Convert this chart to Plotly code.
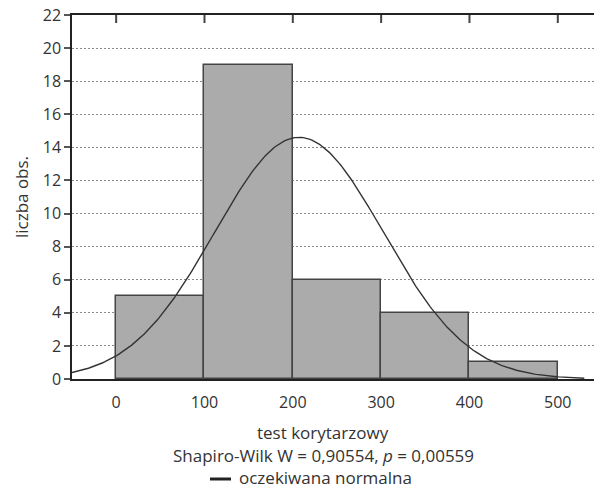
import numpy as np
import plotly.graph_objects as go

# Histogram data
bin_left = [0, 100, 200, 300, 400]
bin_width = 100
counts = [5, 19, 6, 4, 1]
x_ticks = [0, 100, 200, 300, 400, 500]
y_ticks = [0, 2, 4, 6, 8, 10, 12, 14, 16, 18, 20, 22]

# Expected normal fit parameters
fit_mean = 207
fit_sd = 95.6
n_obs = sum(counts)
curve_start, curve_end = -50, 530

FONT = "Open Sans"
TXT = "#333333"

centers = [b + bin_width / 2 for b in bin_left]
xs = np.linspace(curve_start, curve_end, 300)
ys = n_obs * bin_width / (fit_sd * np.sqrt(2 * np.pi)) * np.exp(-0.5 * ((xs - fit_mean) / fit_sd) ** 2)

fig = go.Figure()
fig.add_trace(go.Bar(
    x=centers, y=counts, width=[bin_width] * len(counts),
    marker=dict(color="#ababab", line=dict(color="#444444", width=1.5)),
    showlegend=False, hoverinfo="skip",
))
fig.add_trace(go.Scatter(
    x=xs, y=ys, mode="lines", line=dict(color="#333333", width=1.4),
    showlegend=False, hoverinfo="skip",
))

fig.update_layout(
    width=594, height=488,
    margin=dict(l=72, r=0, t=15, b=109),
    plot_bgcolor="white", paper_bgcolor="white",
    font=dict(family=FONT, size=16, color=TXT),
    bargap=0,
    xaxis=dict(
        range=[-50, 541], tickvals=x_ticks, ticks="", mirror=True, showgrid=False,
        showline=True, linecolor="#222222", linewidth=1.5,
        ticklabelstandoff=8, zeroline=False,
        tickfont=dict(size=16, color=TXT),
    ),
    yaxis=dict(
        range=[0, 22], tickvals=y_ticks, ticks="outside", ticklen=6, tickwidth=1.5,
        tickcolor="#555555", showline=True, linecolor="#222222", linewidth=1.5,
        showgrid=True, gridcolor="#8a8a8a", griddash="1.5px,2.5px", gridwidth=1,
        zeroline=False, tickfont=dict(size=16, color=TXT),
        title=dict(text="liczba obs.", font=dict(size=17, color=TXT), standoff=10),
    ),
)

# inward ticks along the top frame line
for t in x_ticks:
    fig.add_shape(type="line", xref="x", yref="paper", x0=t, x1=t,
                  y0=1, y1=1 - 8 / 364, line=dict(color="#444444", width=2),
                  layer="above")

cx = (323 - 72) / 522
fig.add_annotation(text="test korytarzowy", xref="paper", yref="paper",
                   x=cx, y=-(432 - 379) / 364, showarrow=False,
                   font=dict(size=17, color=TXT), xanchor="center", yanchor="middle")
fig.add_annotation(text="Shapiro-Wilk W = 0,90554, <i>p</i> = 0,00559", xref="paper", yref="paper",
                   x=cx, y=-(455 - 379) / 364, showarrow=False,
                   font=dict(size=17, color=TXT), xanchor="center", yanchor="middle")
fig.add_annotation(text="oczekiwana normalna", xref="paper", yref="paper",
                   x=(237 - 72) / 522, y=-(477 - 379) / 364, showarrow=False,
                   font=dict(size=17, color=TXT), xanchor="left", yanchor="middle")
fig.add_shape(type="line", xref="paper", yref="paper",
              x0=(210 - 72) / 522, x1=(231 - 72) / 522,
              y0=-(479 - 379) / 364, y1=-(479 - 379) / 364,
              line=dict(color="#222222", width=3))

fig.write_html("out.html", post_script="document.body.style.margin='0';",
               config={"displayModeBar": False})
